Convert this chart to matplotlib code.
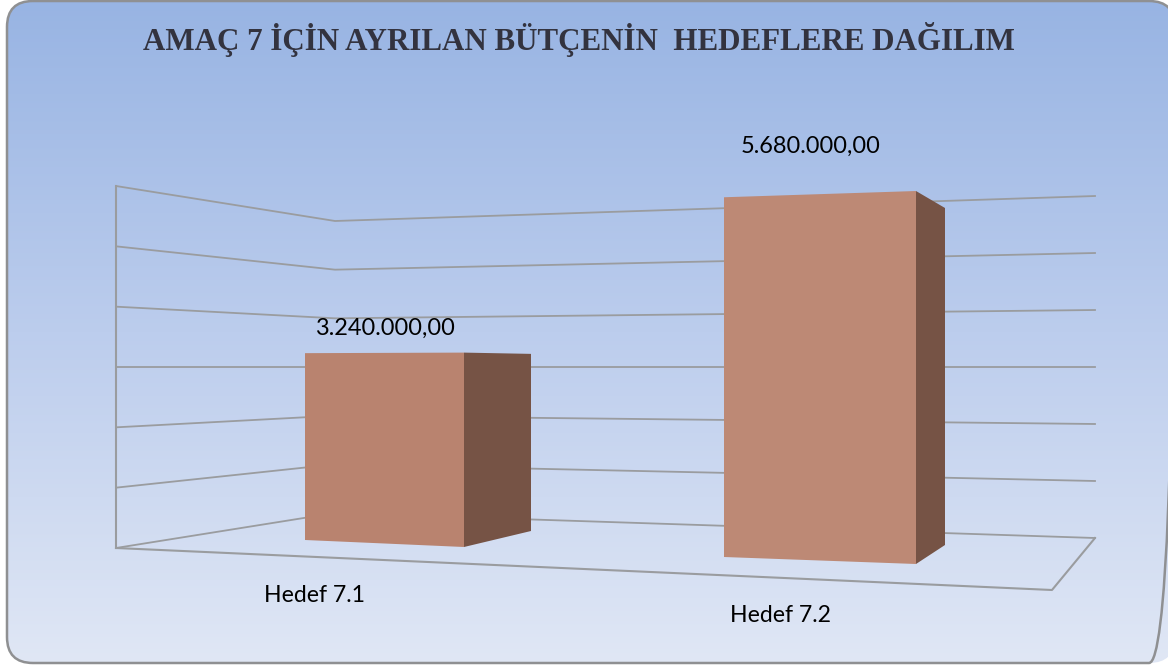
#Budget distribution chart, drawn as a fake 3D column chart in pixel space

import matplotlib.pyplot as plt
import matplotlib as mpl
from matplotlib.patches import FancyBboxPatch, Polygon
import numpy as np

mpl.rcParams['savefig.dpi'] = 100

title = 'AMAÇ 7 İÇİN AYRILAN BÜTÇENİN  HEDEFLERE DAĞILIM'
categories = ['Hedef 7.1', 'Hedef 7.2']
values = [3240000, 5680000]
value_labels = ['3.240.000,00', '5.680.000,00']
grid_values = [0, 1000000, 2000000, 3000000, 4000000, 5000000, 6000000]

#layout, in pixels of the picture
horizon_y = 367
horizon_value = 3000000
wall_left = (116, 548)
wall_corner = (335, 513)
wall_right = (1095, 538)
floor_front = (1052, 590)
#front left, front right, back right corners of each column on the floor
footprints = [[(305, 540), (464, 547), (531, 531)],
              [(724, 557), (916, 564), (945, 545)]]
front_colors = ['#b9836f', '#bd8975']
side_color = '#765345'
grid_color = '#9a9c9f'
label_pos = [(385, 335), (811, 153)]
cat_pos = [(315, 602), (781, 622)]


def lift(point, value):
	'''Move a floor point up to the given value, everything meets at the horizon.'''
	x, y = point
	return (x, horizon_y + (y - horizon_y) * (horizon_value - value) / horizon_value)


fig = plt.figure(figsize=(11.68, 6.66))
ax = fig.add_axes([0, 0, 1, 1])

#panel with vertical gradient
panel = FancyBboxPatch((7, 1), 1168, 662, boxstyle='round,pad=0,rounding_size=26',
	facecolor='none', edgecolor='#8f9092', linewidth=1.8, zorder=2)
ax.add_patch(panel)
gradient = np.linspace(0, 1, 256).reshape(-1, 1)
cmap = mpl.colors.LinearSegmentedColormap.from_list('panel', ['#98b4e3', '#bccded', '#e0e7f5'])
im = ax.imshow(gradient, cmap=cmap, extent=(7, 1175, 663, 1), aspect='auto', zorder=1)
im.set_clip_path(panel)
ax.set_xlim(0, 1168)
ax.set_ylim(666, 0)
ax.axis('off')

#walls and floor
for v in grid_values:
	pts = [lift(p, v) for p in (wall_left, wall_corner, wall_right)]
	ax.plot(*zip(*pts), color=grid_color, lw=1.3, zorder=3)
ax.plot(*zip(lift(wall_left, grid_values[0]), lift(wall_left, grid_values[-1])), color=grid_color, lw=1.5, zorder=3)
ax.plot(*zip(wall_left, floor_front, wall_right), color=grid_color, lw=1.5, zorder=3)

#columns
for foot, val, color in zip(footprints, values, front_colors):
	fl, fr, br = foot
	front = [fl, fr, lift(fr, val), lift(fl, val)]
	side = [fr, br, lift(br, val), lift(fr, val)]
	ax.add_patch(Polygon(side, closed=True, facecolor=side_color, edgecolor='none', zorder=4))
	ax.add_patch(Polygon(front, closed=True, facecolor=color, edgecolor='none', zorder=5))

#texts
ax.text(579, 50, title, family='Liberation Serif', weight='bold', fontsize=22.35, color='#33333f', ha='center', va='baseline', zorder=6)
for (x, y), txt in zip(label_pos, value_labels):
	ax.text(x, y, txt, family='Lato', fontsize=16.9, color='black', ha='center', va='baseline', zorder=6)
for (x, y), txt in zip(cat_pos, categories):
	ax.text(x, y, txt, family='Lato', fontsize=16.6, color='black', ha='center', va='baseline', zorder=6)

fig.savefig('out.png', dpi=100)
plt.close()
